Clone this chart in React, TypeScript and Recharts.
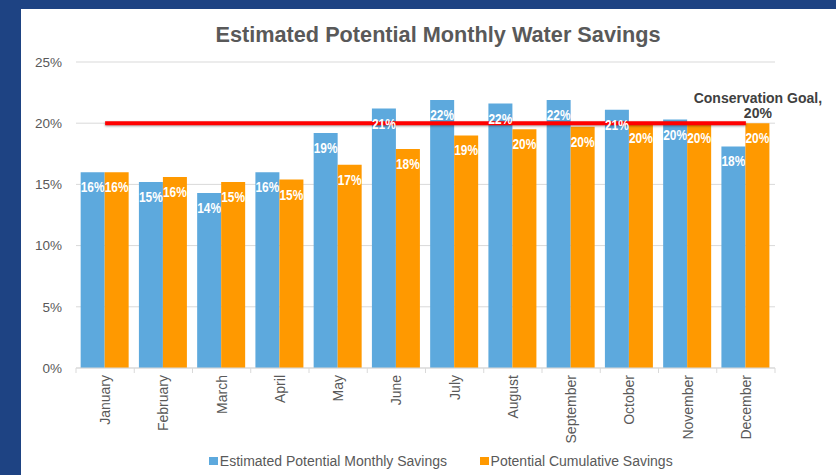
import React from 'react';
import { ComposedChart, Bar, Line, XAxis, YAxis, CartesianGrid, Legend, LabelList } from 'recharts';

const months = ['January', 'February', 'March', 'April', 'May', 'June', 'July', 'August', 'September', 'October', 'November', 'December'];
const monthlySavings = [16.0, 15.2, 14.3, 16.0, 19.2, 21.2, 21.9, 21.6, 21.9, 21.1, 20.3, 18.1];
const cumulativeSavings = [16.0, 15.6, 15.2, 15.4, 16.6, 17.9, 19.0, 19.5, 19.7, 20.0, 20.0, 20.0];
const conservationGoal = [20, 20, 20, 20, 20, 20, 20, 20, 20, 20, 20, 20];
const yTicks = [0, 5, 10, 15, 20, 25];
const goalLabel = ['Conservation Goal,', '20%'];
const chartTitle = 'Estimated Potential Monthly Water Savings';
const seriesNames = ['Estimated Potential Monthly Savings', 'Potential Cumulative Savings'];

const data = months.map((m, i) => ({
  month: m,
  monthly: monthlySavings[i],
  cumulative: cumulativeSavings[i],
  goal: conservationGoal[i],
}));

const BLUE = '#5DA9DD';
const ORANGE = '#FF9900';
const GRAY = '#595959';
const NAVY = '#1E4383';
const FONT = '"Liberation Sans", Arial, sans-serif';

function BarValueLabel(props: any) {
  const { x, y, width, value } = props;
  const cx = Number(x) + Number(width) / 2;
  const ty = Number(y) + 20;
  return (
    <text
      transform={`translate(${cx} ${ty}) scale(0.85 1)`}
      textAnchor="middle"
      fontSize={14}
      fontWeight="bold"
      fill="#FFFFFF"
      fontFamily={FONT}
    >
      {`${Math.round(Number(value))}%`}
    </text>
  );
}

function GoalLabel(props: any) {
  const { x, y, index } = props;
  if (index !== months.length - 1) return null;
  const cx = Number(x) + 12;
  const cy = Number(y);
  return (
    <text textAnchor="middle" fontSize={14} fontWeight="bold" fill="#404040" fontFamily={FONT}>
      <tspan x={cx} y={cy - 20}>{goalLabel[0]}</tspan>
      <tspan x={cx} y={cy - 5}>{goalLabel[1]}</tspan>
    </text>
  );
}

function MonthTick(props: any) {
  const { x, y, payload, index } = props;
  const half = payload && payload.offset ? payload.offset : 29.1;
  const axisY = Number(y) - 7;
  return (
    <g>
      <line x1={x - half} x2={x - half} y1={axisY} y2={axisY + 5} stroke="#D9D9D9" />
      {index === months.length - 1 && (
        <line x1={x + half} x2={x + half} y1={axisY} y2={axisY + 5} stroke="#D9D9D9" />
      )}
      <text
        transform={`translate(${x} ${y}) rotate(-90)`}
        textAnchor="end"
        dy="0.35em"
        fontSize={14}
        fill={GRAY}
        fontFamily={FONT}
      >
        {payload.value}
      </text>
    </g>
  );
}

function LegendContent(props: any) {
  const payload = (props.payload || []).filter((p: any) => p.type !== 'none');
  return (
    <div style={{ position: 'relative', height: 0, width: 836 }}>
      <div
        style={{
          position: 'absolute',
          top: 453,
          left: 0,
          width: 882,
          display: 'flex',
          justifyContent: 'center',
          gap: 33,
          fontFamily: FONT,
          fontSize: 14,
          color: GRAY,
          lineHeight: '16px',
          whiteSpace: 'nowrap',
        }}
      >
        {payload.map((p: any) => (
          <div key={p.value} style={{ display: 'flex', alignItems: 'center' }}>
            <span style={{ display: 'inline-block', width: 8.5, height: 8.5, background: p.color, marginRight: 2 }} />
            <span>{p.value}</span>
          </div>
        ))}
      </div>
    </div>
  );
}

export default function App() {
  return (
    <div style={{ position: 'absolute', left: 0, top: 0, width: 836, height: 475, background: NAVY, overflow: 'hidden' }}>
      <div style={{ position: 'absolute', left: 21, top: 9, width: 815, height: 466, background: '#FFFFFF' }} />
      <div style={{ position: 'absolute', left: 0, top: 0 }}>
        <ComposedChart
          width={836}
          height={475}
          data={data}
          margin={{ top: 62, right: 61, left: 0, bottom: 32 }}
          barCategoryGap="8%"
          barGap={0}
        >
          <text x={438} y={42} textAnchor="middle" fontSize={21.7} fontWeight="bold" fill={GRAY} fontFamily={FONT}>
            {chartTitle}
          </text>
          <CartesianGrid vertical={false} stroke="#D9D9D9" />
          <XAxis
            dataKey="month"
            interval={0}
            height={75}
            tickSize={5}
            tickMargin={2}
            tickLine={false}
            axisLine={{ stroke: '#D9D9D9' }}
            tick={<MonthTick />}
          />
          <XAxis xAxisId="overlay" dataKey="month" hide height={75} />
          <YAxis
            width={76}
            domain={[0, 25]}
            ticks={yTicks}
            tickFormatter={(v: number) => `${v}%`}
            axisLine={false}
            tickLine={false}
            tickSize={6}
            tickMargin={8}
            tick={{ fill: GRAY, fontSize: 13.5, fontFamily: FONT }}
          />
          <Bar dataKey="monthly" name={seriesNames[0]} fill={BLUE} isAnimationActive={false} />
          <Bar dataKey="cumulative" name={seriesNames[1]} fill={ORANGE} isAnimationActive={false} />
          <Line
            dataKey="goal"
            stroke="#FF0000"
            strokeWidth={4}
            dot={false}
            activeDot={false}
            legendType="none"
            isAnimationActive={false}
            style={{ filter: 'drop-shadow(0px 1px 1px rgba(0,0,0,0.35))' }}
          >
            <LabelList dataKey="goal" content={<GoalLabel />} />
          </Line>
          <Bar xAxisId="overlay" dataKey="monthly" fill="none" legendType="none" isAnimationActive={false}>
            <LabelList dataKey="monthly" content={<BarValueLabel />} />
          </Bar>
          <Bar xAxisId="overlay" dataKey="cumulative" fill="none" legendType="none" isAnimationActive={false}>
            <LabelList dataKey="cumulative" content={<BarValueLabel />} />
          </Bar>
          <Legend
            verticalAlign="bottom"
            wrapperStyle={{ left: 0, top: 0 }}
            content={<LegendContent />}
          />
        </ComposedChart>
      </div>
    </div>
  );
}
